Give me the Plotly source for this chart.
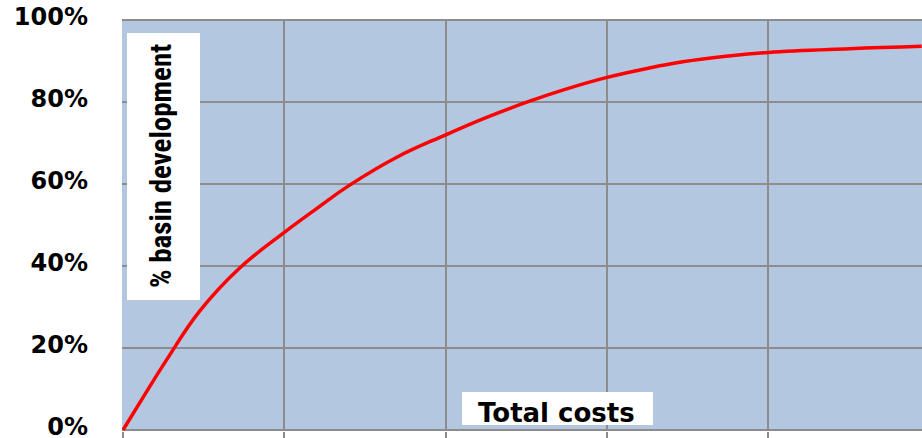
import plotly.graph_objects as go

# Data (x in grid units of total cost, y in % basin development)
total_costs = [0, 0.13, 0.27, 0.475, 0.72, 1.0, 1.2, 1.4, 1.7, 2.0, 2.25, 2.52, 2.75,
               3.0, 3.25, 3.47, 3.75, 4.0, 4.5, 4.95]
basin_dev = [0, 8.3, 17.1, 29.0, 39.4, 48.2, 54.0, 59.6, 66.6, 72.0, 76.2, 80.2, 83.2,
             86.0, 88.2, 89.8, 91.2, 92.1, 93.0, 93.6]
y_ticks = [0, 20, 40, 60, 80, 100]
y_tick_labels = ["0%", "20%", "40%", "60%", "80%", "100%"]
x_title = "Total costs"
y_title = "% basin development"

W, H = 922, 438
L, R, T, B = 122, 0, 19, 7
pw, ph = W - L - R, H - T - B

def px_x(p):
    return (p - L) / pw

def px_y(p):
    return (H - B - p) / ph

fig = go.Figure()
fig.add_trace(go.Scatter(
    x=total_costs, y=basin_dev, mode="lines",
    line=dict(color="#FF0000", width=3.5, shape="spline", smoothing=1.2),
    hoverinfo="skip", showlegend=False,
))

grid = "#8C8C8C"
fig.update_layout(
    width=W, height=H,
    margin=dict(l=L, r=R, t=T, b=B, autoexpand=False),
    paper_bgcolor="white",
    plot_bgcolor="#B3C7E0",
    xaxis=dict(range=[-0.0062, 4.952], dtick=1, tick0=0, showgrid=True, gridcolor=grid, gridwidth=1.5,
               zeroline=False, showticklabels=False, ticks="outside", ticklen=9,
               tickcolor=grid, tickwidth=1.5, showline=False, fixedrange=True, automargin=False),
    yaxis=dict(range=[-0.25, 100.25], tickvals=y_ticks, ticktext=y_tick_labels, showgrid=True,
               gridcolor=grid, gridwidth=1.5, zeroline=False, showline=False, ticks="",
               ticklabelstandoff=33, ticklabelshift=-3, ticklabeloverflow="allow", automargin=False,
               tickfont=dict(family="DejaVu Sans", size=24, color="black", weight="bold"),
               fixedrange=True),
    shapes=[
        dict(type="rect", xref="paper", yref="paper", layer="above",
             x0=px_x(127), x1=px_x(200), y0=px_y(300), y1=px_y(33),
             fillcolor="white", line=dict(width=0)),
        dict(type="rect", xref="paper", yref="paper", layer="above",
             x0=px_x(462), x1=px_x(653), y0=px_y(425), y1=px_y(392),
             fillcolor="white", line=dict(width=0)),
    ],
    annotations=[
        dict(text=y_title, xref="paper", yref="paper", x=px_x(161), y=px_y(166),
             xanchor="center", yanchor="middle", textangle=-90, showarrow=False,
             font=dict(family="Roboto Condensed, Liberation Sans Narrow, Roboto",
                       size=29, color="black", weight="bold")),
        dict(text=x_title, xref="paper", yref="paper", x=px_x(556), y=px_y(413),
             xanchor="center", yanchor="middle", showarrow=False,
             font=dict(family="DejaVu Sans", size=26, color="black", weight="bold")),
    ],
)

fig.write_html("out.html", config={"displayModeBar": False})
